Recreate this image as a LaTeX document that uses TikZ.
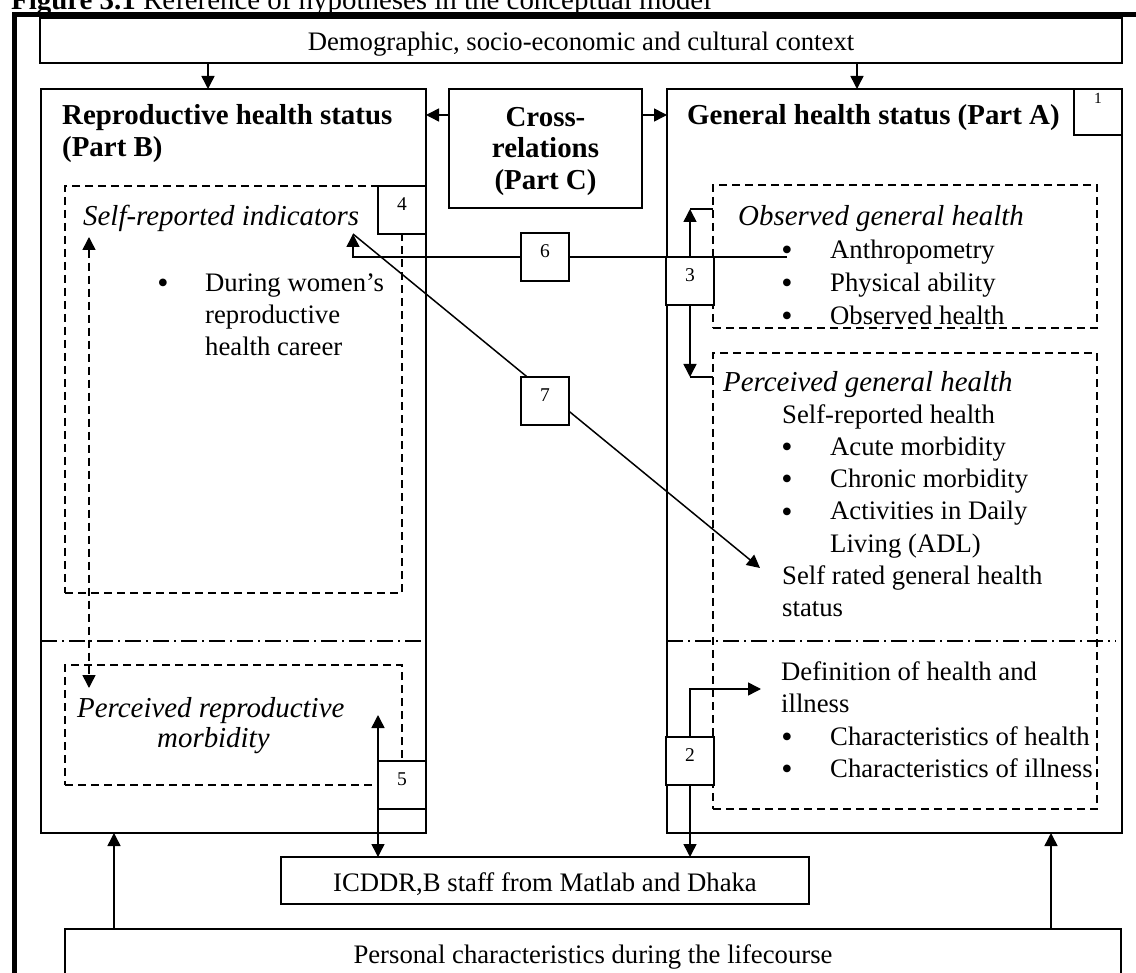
\documentclass[tikz,border=0pt]{standalone}
\usepackage{fontspec}
\setmainfont{Liberation Serif}
\usetikzlibrary{arrows.meta}
\newcommand\bodyfs{\fontsize{26.7}{32}\selectfont}
\newcommand\headfs{\fontsize{28.9}{34}\selectfont}
\newcommand\numfs{\fontsize{19.5}{22}\selectfont}
\newcommand\onefs{\fontsize{15.5}{18}\selectfont}
\newcommand\bulfs{\fontsize{32}{32}\selectfont}
\begin{document}
\begin{tikzpicture}[x=1pt,y=-1pt,
  frame/.style={line width=5pt},
  solidbox/.style={draw, line width=1.5pt, fill=white, inner sep=0pt, outer sep=0pt, anchor=north west},
  dashbox/.style={draw, line width=1.4pt, dash pattern=on 8pt off 5pt, inner sep=0pt, outer sep=0pt, anchor=north west},
  numbox/.style={solidbox, font=\numfs, minimum width=48pt, minimum height=48pt, text height=13pt, text depth=12pt},
  txt/.style={inner sep=0pt, anchor=base west, font=\bodyfs},
  ctxt/.style={inner sep=0pt, anchor=base, font=\bodyfs},
  bul/.style={inner sep=0pt, anchor=base, font=\bulfs, yshift=-2pt},
  bhead/.style={inner sep=0pt, anchor=base west, font=\headfs\bfseries},
  ihead/.style={inner sep=0pt, anchor=base west, font=\headfs\itshape},
  conn/.style={line width=1.5pt},
  arr/.style={conn, -{Triangle[length=13pt,width=13pt]}},
  darr/.style={conn, {Triangle[length=13pt,width=13pt]}-{Triangle[length=13pt,width=13pt]}},
  divider/.style={line width=1.4pt, dash pattern=on 16pt off 5pt on 2pt off 5pt}
]
\useasboundingbox (0,0) rectangle (1136,973);
\fill[white] (0,0) rectangle (1136,973);

% caption line, mostly above the page edge
\node[inner sep=0pt, anchor=base west, font=\headfs] (caption) at (11,10)
  {\textbf{Figure 3.1} Reference of hypotheses in the conceptual model};

% main boxes
\node[solidbox, minimum width=1082pt, minimum height=45pt] (dem) at (40,18) {};
\node[ctxt] (dem-t) at (581,51) {Demographic, socio-economic and cultural context};

\node[solidbox, minimum width=385pt, minimum height=744pt] (rb) at (41,89) {};
\node[solidbox, minimum width=193pt, minimum height=119pt] (cross) at (449,89) {};
\node[solidbox, minimum width=455pt, minimum height=744pt] (gh) at (667,89) {};
\node[solidbox, font=\onefs, minimum width=48pt, minimum height=46pt, text height=10.5pt, text depth=26.5pt] (b1) at (1074,89) {1};

\node[bhead] (rb-h1) at (62,125) {Reproductive health status};
\node[bhead] (rb-h2) at (62,157) {(Part B)};
\node[bhead] (gh-h) at (687,125) {General health status (Part A)};
\node[bhead, anchor=base] (cr-1) at (545.5,127) {Cross-};
\node[bhead, anchor=base] (cr-2) at (545.5,158) {relations};
\node[bhead, anchor=base] (cr-3) at (545.5,190) {(Part C)};

% dashed groups
\node[dashbox, minimum width=337pt, minimum height=407pt] (sri) at (65,186) {};
\node[dashbox, minimum width=337pt, minimum height=120pt] (prm) at (65,665) {};
\node[dashbox, minimum width=384pt, minimum height=143pt] (obs) at (713,185) {};
\node[dashbox, minimum width=384pt, minimum height=456pt] (pgh) at (713,353) {};

% part dividers
\coordinate (dv) at (0,641);
\coordinate (dv-r) at (1116,641);
\draw[divider] (rb.west |- dv) -- (rb.east |- dv);
\draw[divider] (gh.west |- dv) -- (dv-r);

% reproductive health texts
\node[ihead] (sri-h) at (83,226) {Self-reported indicators};
\node[bul] (sri-b) at (163,292) {•};
\node[txt] (sri-1) at (205,292) {During women’s};
\node[txt] (sri-2) at (205,324) {reproductive};
\node[txt] (sri-3) at (205,356) {health career};
\node[ihead] (prm-1) at (77,717) {Perceived reproductive};
\node[ihead] (prm-2) at (157,747) {morbidity};

% general health texts
\node[ihead] (obs-h) at (738,226) {Observed general health};
\node[bul] (obs-b1) at (787,259) {•};
\node[bul] (obs-b2) at (787,292) {•};
\node[bul] (obs-b3) at (787,325) {•};
\node[txt] (obs-1) at (830,259) {Anthropometry};
\node[txt] (obs-2) at (830,292) {Physical ability};
\node[txt] (obs-3) at (830,325) {Observed health};

\node[ihead] (pgh-h) at (723,392) {Perceived general health};
\node[txt] (pgh-s) at (782,424) {Self-reported health};
\node[bul] (pgh-b1) at (787,456) {•};
\node[bul] (pgh-b2) at (787,488) {•};
\node[bul] (pgh-b3) at (787,520) {•};
\node[txt] (pgh-1) at (830,456) {Acute morbidity};
\node[txt] (pgh-2) at (830,488) {Chronic morbidity};
\node[txt] (pgh-3) at (830,520) {Activities in Daily};
\node[txt] (pgh-4) at (830,552) {Living (ADL)};
\node[txt] (pgh-r1) at (782,584) {Self rated general health};
\node[txt] (pgh-r2) at (782,616) {status};

\node[txt] (def-1) at (781,680) {Definition of health and};
\node[txt] (def-2) at (781,712) {illness};
\node[bul] (def-b1) at (787,745) {•};
\node[bul] (def-b2) at (787,777) {•};
\node[txt] (def-3) at (830,745) {Characteristics of health};
\node[txt] (def-4) at (830,777) {Characteristics of illness};

% lower boxes
\node[solidbox, minimum width=528pt, minimum height=47pt] (icddr) at (281,857) {};
\node[ctxt] (icddr-t) at (545,891) {ICDDR,B staff from Matlab and Dhaka};
\node[solidbox, minimum width=1056pt, minimum height=80pt] (pers) at (65,929) {};
\node[ctxt] (pers-t) at (593,963) {Personal characteristics during the lifecourse};

% outer frame
\coordinate (fr-r) at (1140,14.5);
\coordinate (fr-c) at (14,14.5);
\coordinate (fr-b) at (14,980);
\draw[frame] (fr-r) -- (fr-c) -- (fr-b);

% connector positions
\coordinate (xa) at (208,0);
\coordinate (xb) at (857,0);
\coordinate (cry) at (0,115);
\coordinate (xL) at (114,0);
\coordinate (xR) at (1051,0);
\coordinate (x3) at (690,0);
\coordinate (x5) at (378,0);
\coordinate (anth-dot) at (787,257);
\coordinate (sri-end) at (353,234);
\coordinate (srgh-pt) at (760,568);
\coordinate (obs-in) at (713,209);
\coordinate (pgh-in) at (713,377);
\coordinate (def-in) at (761,689);
\coordinate (prm-in) at (378,715);
\coordinate (sri-low) at (89,237);
\coordinate (prm-top) at (89,688);

\draw[arr] (xa |- dem.south) -- (xa |- rb.north);
\draw[arr] (xb |- dem.south) -- (xb |- gh.north);
\draw[arr] (cross.west |- cry) -- (rb.east |- cry);
\draw[arr] (cross.east |- cry) -- (gh.west |- cry);
\draw[arr] (xL |- pers.north) -- (xL |- rb.south);
\draw[arr] (xR |- pers.north) -- (xR |- gh.south);

% hypothesis 6 and 7
\draw[arr] (anth-dot) -- (sri-end |- anth-dot) -- (sri-end);
\draw[arr] (sri-end) -- (srgh-pt);

% hypothesis 3
\node[numbox] (b3) at (666,257) {3};
\draw[arr] (x3 |- b3.north) -- (x3 |- obs-in);
\draw[conn] (x3 |- obs-in) -- (obs-in);
\draw[arr] (x3 |- b3.south) -- (x3 |- pgh-in);
\draw[conn] (x3 |- pgh-in) -- (pgh-in);

% hypothesis 2
\node[numbox] (b2) at (666,737) {2};
\draw[arr] (x3 |- b2.north) -- (x3 |- def-in) -- (def-in);
\draw[arr] (x3 |- b2.south) -- (x3 |- icddr.north);

% hypothesis 4 and 5
\draw[darr, dash pattern=on 8pt off 5pt] (sri-low) -- (prm-top);
\node[numbox] (b4) at (378,186) {4};
\node[numbox] (b5) at (378,761) {5};
\draw[darr] (prm-in) -- (x5 |- icddr.north);

% labels sitting on the connectors
\node[numbox] (b6) at (521,233) {6};
\node[numbox] (b7) at (521,377) {7};
\end{tikzpicture}
\end{document}
